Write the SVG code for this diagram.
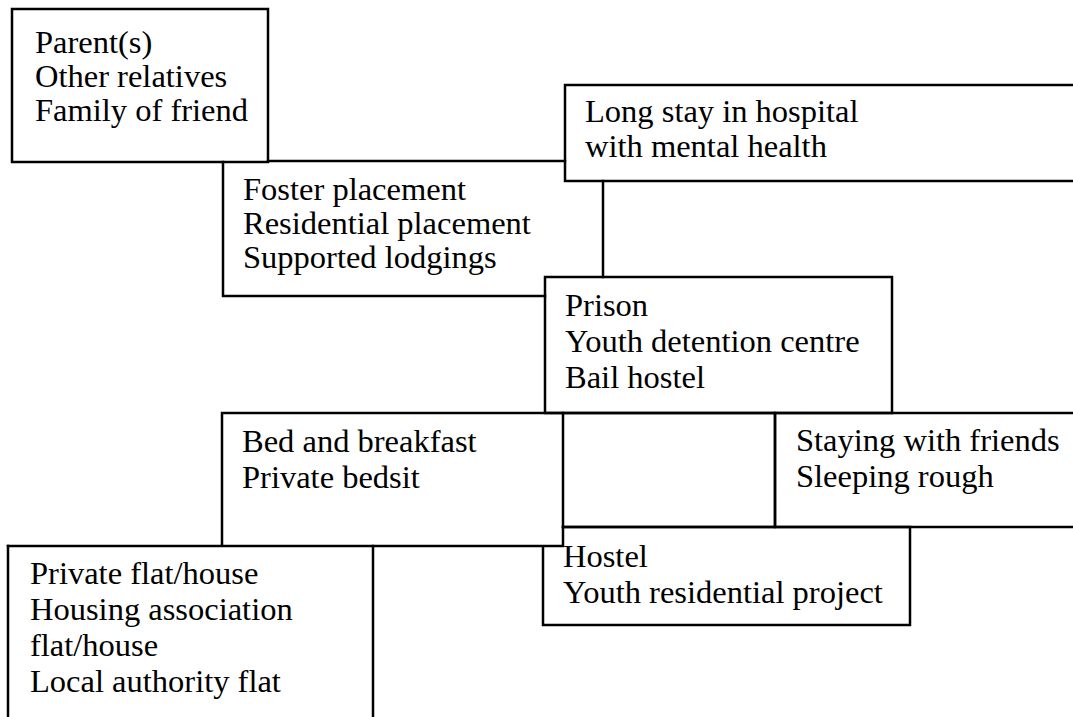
<svg xmlns="http://www.w3.org/2000/svg" width="1073" height="717" viewBox="0 0 1073 717">
<style>
.ln{fill:none;stroke:#000;stroke-width:2.5;stroke-linecap:square}
text{font-family:"Liberation Serif","Times New Roman",serif;font-size:32.5px;fill:#000}
</style>
<rect width="1073" height="717" fill="#fff"/>
<g id="connectors">
<path class="ln" d="M268,161 H565"/>
<path class="ln" d="M603,181 V277"/>
<path class="ln" d="M223,162 V296 H545"/>
</g>
<g id="parents">
<rect class="ln" x="12" y="9" width="256" height="153"/>
<text x="35" y="53">Parent(s)</text>
<text x="35" y="87">Other relatives</text>
<text x="35" y="121">Family of friend</text>
</g>
<g id="hospital">
<path class="ln" d="M1075,85 H565 V181 H1075"/>
<text x="585" y="122">Long stay in hospital</text>
<text x="585" y="157">with mental health</text>
</g>
<g id="foster">
<text x="243" y="200">Foster placement</text>
<text x="243" y="234">Residential placement</text>
<text x="243" y="268">Supported lodgings</text>
</g>
<g id="prison">
<rect class="ln" x="545" y="277" width="347" height="136"/>
<text x="565" y="316">Prison</text>
<text x="565" y="352">Youth detention centre</text>
<text x="565" y="388">Bail hostel</text>
</g>
<g id="bedbreakfast">
<path class="ln" d="M222,413 H563 V546 H8 M222,413 V546"/>
<text x="242" y="452">Bed and breakfast</text>
<text x="242" y="488">Private bedsit</text>
</g>
<g id="middle">
<path class="ln" d="M563,413 H775 V527 H563"/>
</g>
<g id="staying">
<path class="ln" d="M1075,413 H775 V527 H1075"/>
<text x="796" y="451">Staying with friends</text>
<text x="796" y="487">Sleeping rough</text>
</g>
<g id="hostel">
<path class="ln" d="M563,527 H910 V625 H543 V547"/>
<text x="563" y="567">Hostel</text>
<text x="563" y="603">Youth residential project</text>
</g>
<g id="flat">
<path class="ln" d="M8,546 V720 M373,546 V720"/>
<text x="30" y="584">Private flat/house</text>
<text x="30" y="620">Housing association</text>
<text x="30" y="656">flat/house</text>
<text x="30" y="692">Local authority flat</text>
</g>
</svg>
